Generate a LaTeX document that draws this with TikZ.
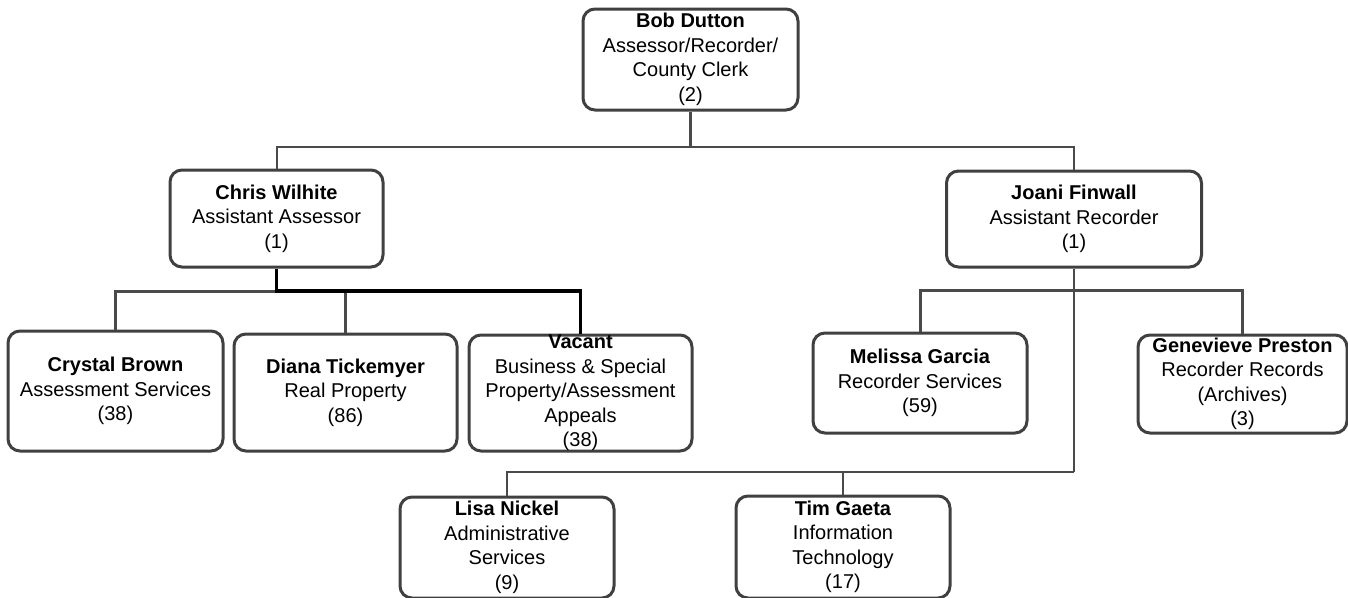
\documentclass[tikz,border=0pt]{standalone}
\usepackage{fontspec}
\setmainfont{Liberation Sans}
\definecolor{boxline}{HTML}{404040}
\definecolor{linkgray}{HTML}{4A4A4A}
\begin{document}
\begin{tikzpicture}[x=1pt,y=-1pt,
  orgbox/.style={draw=boxline, line width=3pt, rounded corners=12pt, fill=white,
    align=center, inner sep=0pt,
    font=\fontsize{20pt}{24.5pt}\selectfont},
  thinlink/.style={draw=linkgray, line width=2pt},
  link/.style={draw=linkgray, line width=3pt},
  darklink/.style={draw=black, line width=3.5pt}]
\useasboundingbox (0,0) rectangle (1348,597);

% bus levels
\coordinate (topbus) at (0,147);
\coordinate (abus) at (0,291);
\coordinate (rbus) at (0,290);
\coordinate (lowbus) at (0,472);

% boxes
\node[orgbox, minimum width=215pt, minimum height=101pt] (bob) at (690.5,59.5)
  {\textbf{Bob Dutton}\\Assessor/Recorder/\\County Clerk\\(2)};
\node[orgbox, minimum width=213pt, minimum height=97pt] (chris) at (276.5,218.5)
  {\textbf{Chris Wilhite}\\Assistant Assessor\\(1)};
\node[orgbox, minimum width=255pt, minimum height=96pt] (joani) at (1074,219)
  {\textbf{Joani Finwall}\\Assistant Recorder\\(1)};
\node[orgbox, minimum width=215pt, minimum height=120pt] (crystal) at (115.5,391)
  {\textbf{Crystal Brown}\\Assessment Services\\(38)};
\node[orgbox, minimum width=223pt, minimum height=117pt] (diana) at (345.5,392.5)
  {\textbf{Diana Tickemyer}\\Real Property\\(86)};
\node[orgbox, minimum width=223pt, minimum height=116pt] (vacant) at (580.5,393)
  {\textbf{Vacant}\\Business \& Special\\Property/Assessment\\Appeals\\(38)};
\node[orgbox, minimum width=214pt, minimum height=100pt] (melissa) at (920,383)
  {\textbf{Melissa Garcia}\\Recorder Services\\(59)};
\node[orgbox, minimum width=209pt, minimum height=98pt] (genevieve) at (1242.5,384)
  {\textbf{Genevieve Preston}\\Recorder Records\\(Archives)\\(3)};
\node[orgbox, minimum width=214pt, minimum height=101pt] (lisa) at (507,547.5)
  {\textbf{Lisa Nickel}\\Administrative\\Services\\(9)};
\node[orgbox, minimum width=214pt, minimum height=102pt] (tim) at (843,547)
  {\textbf{Tim Gaeta}\\Information\\Technology\\(17)};

% connectors
\draw[link] (bob.south) -- (bob.south |- topbus);
\draw[thinlink] (chris.north) -- (chris.north |- topbus) -| (joani.north);

\draw[link] (crystal.north) -- (crystal.north |- abus) -- (chris.south |- abus);
\draw[link] (diana.north) -- (diana.north |- abus);
\draw[darklink] (chris.south) -- (chris.south |- abus) -| (vacant.north);

\draw[link] (melissa.north) -- (melissa.north |- rbus) -| (genevieve.north);
\draw[link, line width=2.5pt] (joani.south) -- (joani.south |- lowbus);
\draw[thinlink] (joani.south |- lowbus) -| (lisa.north);
\draw[thinlink] (tim.north) -- (tim.north |- lowbus);
\end{tikzpicture}
\end{document}
